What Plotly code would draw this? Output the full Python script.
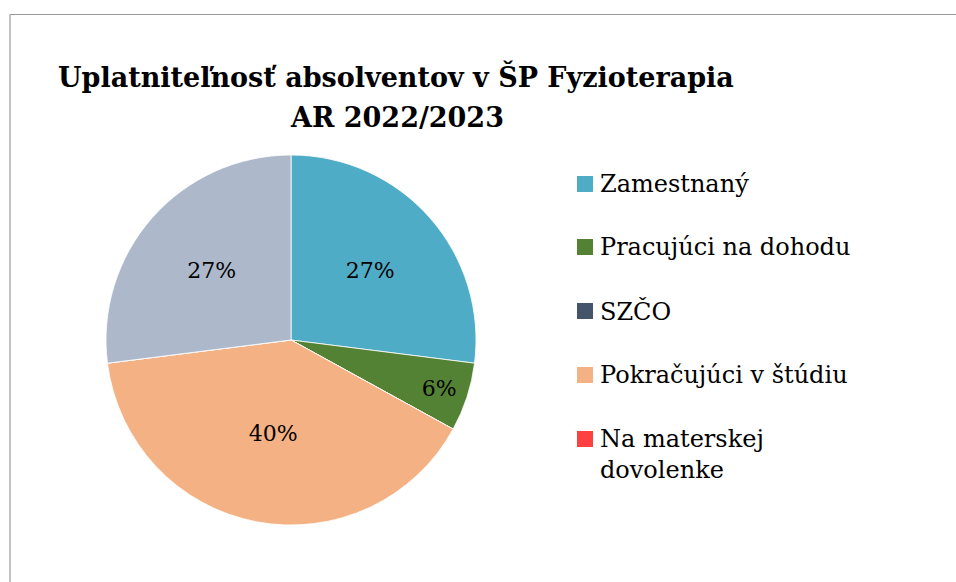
import plotly.graph_objects as go

W, H = 956, 582

categories = ["Zamestnaný", "Pracujúci na dohodu", "SZČO", "Pokračujúci v štúdiu", "Na materskej dovolenke", "Iné"]
values = [27, 6, 0, 40, 0, 27]
slice_text = ["27%", "6%", "", "40%", "", "27%"]
colors = ["#4FACC6", "#548235", "#44546A", "#F4B183", "#FF4040", "#ADB9CA"]
legend_labels = ["Zamestnaný", "Pracujúci na dohodu", "SZČO", "Pokračujúci v štúdiu", "Na materskej<br>dovolenke"]
title_lines = ["Uplatniteľnosť absolventov v ŠP Fyzioterapia", "AR 2022/2023"]

FONT = "DejaVu Serif"

def px(x):
    return x / W

def py(y):
    return 1 - y / H

cx, cy, r = 291, 340, 185

fig = go.Figure(go.Pie(
    labels=categories,
    values=values,
    text=slice_text,
    textinfo="text",
    textposition="inside",
    insidetextorientation="horizontal",
    textfont=dict(family=FONT, size=22, color="#000000"),
    marker=dict(colors=colors, line=dict(color="#FFFFFF", width=0.8)),
    sort=False,
    direction="clockwise",
    rotation=0,
    showlegend=False,
    domain=dict(x=[px(cx - r), px(cx + r)], y=[py(cy + r), py(cy - r)]),
))

annotations = [
    dict(text="<b>%s</b>" % title_lines[0], x=px(396), y=py(77), xref="paper", yref="paper",
         xanchor="center", yanchor="middle", showarrow=False,
         font=dict(family=FONT, size=27, color="#000000")),
    dict(text="<b>%s</b>" % title_lines[1], x=px(397), y=py(118), xref="paper", yref="paper",
         xanchor="center", yanchor="middle", showarrow=False,
         font=dict(family=FONT, size=27, color="#000000")),
]

shapes = [
    dict(type="line", xref="paper", yref="paper", x0=px(10), x1=1, y0=py(14.5), y1=py(14.5),
         line=dict(color="#9A9A9A", width=1.2)),
    dict(type="line", xref="paper", yref="paper", x0=px(10), x1=px(10), y0=py(14.5), y1=0,
         line=dict(color="#9A9A9A", width=1.2)),
]

leg_y = [184, 247, 311, 375, 439]
for i, lab in enumerate(legend_labels):
    yc = leg_y[i]
    shapes.append(dict(type="rect", xref="paper", yref="paper",
                       x0=px(577), x1=px(593), y0=py(yc + 8), y1=py(yc - 8),
                       fillcolor=colors[i], line=dict(width=0)))
    ycen = yc + 15.5 if "<br>" in lab else yc
    annotations.append(dict(text=lab, x=px(598), y=py(ycen), xref="paper", yref="paper",
                            xanchor="left", yanchor="middle", align="left", showarrow=False,
                            font=dict(family=FONT, size=24, color="#000000")))

fig.update_layout(
    width=W, height=H,
    margin=dict(l=0, r=0, t=0, b=0),
    paper_bgcolor="#FFFFFF",
    plot_bgcolor="#FFFFFF",
    annotations=annotations,
    shapes=shapes,
)

fig.write_html("out.html")
